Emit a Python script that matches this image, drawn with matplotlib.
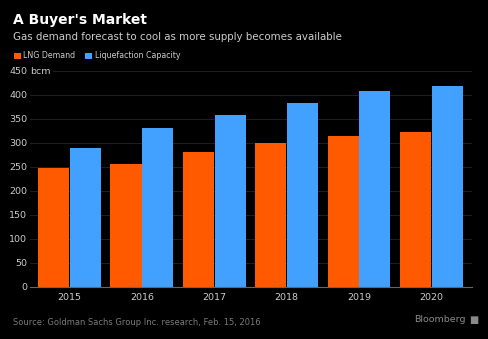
import matplotlib.pyplot as plt
import numpy as np

years = ['2015', '2016', '2017', '2018', '2019', '2020']
lng_demand = [248, 257, 281, 299, 315, 322]
liquefaction_capacity = [290, 332, 359, 383, 408, 419]
yticks = [0, 50, 100, 150, 200, 250, 300, 350, 400, 450]

orange = '#ff5a00'
blue = '#42a0ff'

plt.rcParams['font.family'] = ['DejaVu Sans']

fig = plt.figure(figsize=(4.88, 3.39), dpi=100, facecolor='black')
ax = fig.add_axes([0.0615, 0.1534, 0.9055, 0.6372], facecolor='black')

x = np.arange(len(years))
w = 0.43
ax.bar(x - w / 2 - 0.005, lng_demand, w, color=orange, label='LNG Demand', zorder=2)
ax.bar(x + w / 2 + 0.005, liquefaction_capacity, w, color=blue,
       label='Liquefaction Capacity', zorder=2)

ax.set_xlim(-0.546, 5.56)
ax.set_ylim(0, 450)
ax.set_yticks(yticks)
ax.set_yticklabels([str(v) for v in yticks])
ax.set_xticks(x)
ax.set_xticklabels(years)
ax.tick_params(axis='both', colors='#cccccc', labelsize=6.8, length=0)
ax.tick_params(axis='y', pad=2)
ax.tick_params(axis='x', pad=4)
ax.grid(axis='y', color='#1e1e1e', linewidth=0.8, zorder=0)
for s in ['top', 'right', 'left']:
    ax.spines[s].set_visible(False)
ax.spines['bottom'].set_color('#666666')
ax.spines['bottom'].set_linewidth(0.8)
ax.spines['bottom'].set_zorder(3)

# unit label next to the top tick
ax.text(0.0, 450, 'bcm', transform=ax.get_yaxis_transform(), color='#cccccc',
        fontsize=6.8, va='center_baseline', ha='left',
        bbox=dict(facecolor='black', edgecolor='none', pad=1.5))

fig.text(0.027, 0.94, "A Buyer's Market", color='white', fontsize=10,
         fontweight='bold', va='center')
fig.text(0.027, 0.89, 'Gas demand forecast to cool as more supply becomes available',
         color='#cccccc', fontsize=7.4, va='center')

fig.legend(loc='center left', bbox_to_anchor=(0.022, 0.835), ncol=2, frameon=False,
           fontsize=5.7, labelcolor='#cccccc', handlelength=0.85, handleheight=0.85,
           handletextpad=0.3, columnspacing=1.3, borderaxespad=0)

fig.text(0.027, 0.05, 'Source: Goldman Sachs Group Inc. research, Feb. 15, 2016',
         color='#7a7a7a', fontsize=6.0, va='center')
fig.text(0.955, 0.057, 'Bloomberg', color='#8a8a8a', fontsize=6.8, va='center', ha='right')
fig.text(0.962, 0.057, '\u25a0', color='#8a8a8a', fontsize=7, va='center', ha='left')

fig.savefig('out.png', dpi=100, facecolor='black')
